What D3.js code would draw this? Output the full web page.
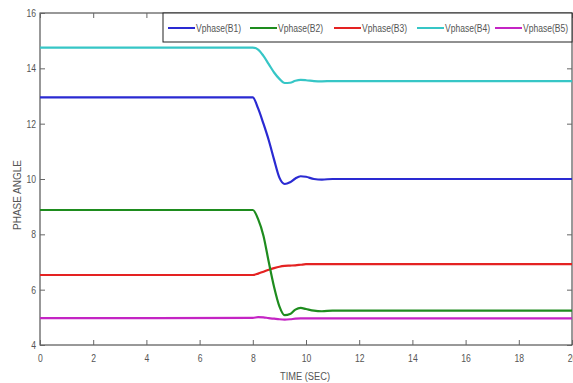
<!DOCTYPE html>
<html><head><meta charset="utf-8">
<script src="https://cdn.jsdelivr.net/npm/d3@7"></script>
<style>
body{margin:0;background:#fff;}
text{font-family:"Liberation Sans Narrow","Arial Narrow","Liberation Sans",sans-serif;}
</style></head>
<body><svg id="c" width="573" height="383"></svg>
<script>
const times = [0, 8.0, 8.2, 8.4, 8.6, 8.8, 9.0, 9.2, 9.4, 9.6, 9.8, 10.0, 10.3, 10.6, 11, 20];
const b1 = [12.95, 12.95, 12.55, 12.0, 11.4, 10.7, 10.05, 9.82, 9.88, 10.02, 10.1, 10.08, 10.0, 9.98, 10.0, 10.0];
const b2 = [8.88, 8.88, 8.55, 7.95, 7.0, 6.1, 5.4, 5.08, 5.12, 5.28, 5.34, 5.3, 5.24, 5.22, 5.24, 5.24];
const b3 = [6.53, 6.53, 6.58, 6.65, 6.72, 6.78, 6.83, 6.86, 6.87, 6.88, 6.9, 6.92, 6.92, 6.92, 6.92, 6.92];
const b4 = [14.75, 14.75, 14.68, 14.45, 14.15, 13.85, 13.62, 13.47, 13.48, 13.55, 13.58, 13.57, 13.54, 13.53, 13.54, 13.54];
const b5 = [4.97, 4.98, 5.01, 5.0, 4.97, 4.95, 4.93, 4.92, 4.93, 4.95, 4.96, 4.96, 4.96, 4.96, 4.96, 4.96];
const seriesNames = ["Vphase(B1)", "Vphase(B2)", "Vphase(B3)", "Vphase(B4)", "Vphase(B5)"];
const seriesColors = ["#2a2ad2", "#1e8c1e", "#e42222", "#36c6c6", "#c424c4"];
const xTicks = [0, 2, 4, 6, 8, 10, 12, 14, 16, 18, 20];
const yTicks = [4, 6, 8, 10, 12, 14, 16];

const allSeries = [b1, b2, b3, b4, b5];
const svg = d3.select("#c");
const L = 40, R = 572, T = 13, B = 345;
const x = d3.scaleLinear().domain([0, 20]).range([L, R]);
const y = d3.scaleLinear().domain([4, 16]).range([B, T]);

svg.append("rect").attr("x", L).attr("y", T).attr("width", R - L).attr("height", B - T)
  .attr("fill", "#fff").attr("stroke", "#333").attr("stroke-width", 1);

const tickCol = "#555";
const gx = svg.append("g").attr("transform", `translate(0,${B})`)
  .call(d3.axisBottom(x).tickValues(xTicks).tickSize(-5).tickPadding(9).tickFormat(d3.format("d")));
const gxt = svg.append("g").attr("transform", `translate(0,${T})`)
  .call(d3.axisTop(x).tickValues(xTicks).tickSize(-5).tickFormat(""));
const gy = svg.append("g").attr("transform", `translate(${L},0)`)
  .call(d3.axisLeft(y).tickValues(yTicks).tickSize(-5).tickPadding(4).tickFormat(d3.format("d")));
const gyr = svg.append("g").attr("transform", `translate(${R},0)`)
  .call(d3.axisRight(y).tickValues(yTicks).tickSize(-5).tickFormat(""));
[gx, gxt, gy, gyr].forEach(g => {
  g.select(".domain").remove();
  g.selectAll("line").attr("stroke", "#666");
  g.selectAll("text").attr("fill", tickCol).attr("font-size", 11)
    .attr("textLength", function() { return this.textContent.length * 4.8; })
    .attr("lengthAdjust", "spacingAndGlyphs");
});

const line = d3.line().x((d, i) => x(times[i])).y(d => y(d)).curve(d3.curveMonotoneX);
const order = [4, 2, 1, 0, 3];
order.forEach(k => {
  svg.append("path").datum(allSeries[k]).attr("d", line)
    .attr("fill", "none").attr("stroke", seriesColors[k]).attr("stroke-width", 2.2);
});

const lg = svg.append("g");
lg.append("rect").attr("x", 163).attr("y", T).attr("width", R - 163).attr("height", 29)
  .attr("fill", "#fff").attr("stroke", "#222").attr("stroke-width", 1);
const legX = [168, 250, 334, 417, 495];
seriesNames.forEach((n, i) => {
  lg.append("line").attr("x1", legX[i]).attr("x2", legX[i] + 27).attr("y1", 28).attr("y2", 28)
    .attr("stroke", seriesColors[i]).attr("stroke-width", 2);
  lg.append("text").attr("x", legX[i] + 28).attr("y", 31.5).attr("font-size", 10)
    .attr("textLength", 45).attr("lengthAdjust", "spacingAndGlyphs")
    .attr("fill", "#555").text(n);
});

svg.append("text").attr("x", 305).attr("y", 380).attr("text-anchor", "middle")
  .attr("font-size", 10).attr("textLength", 50).attr("lengthAdjust", "spacingAndGlyphs")
  .attr("fill", "#555").text("TIME (SEC)");
svg.append("text").attr("transform", "translate(21,195) rotate(-90)").attr("text-anchor", "middle")
  .attr("font-size", 10).attr("textLength", 70).attr("lengthAdjust", "spacingAndGlyphs")
  .attr("fill", "#555").text("PHASE ANGLE");
</script></body></html>
